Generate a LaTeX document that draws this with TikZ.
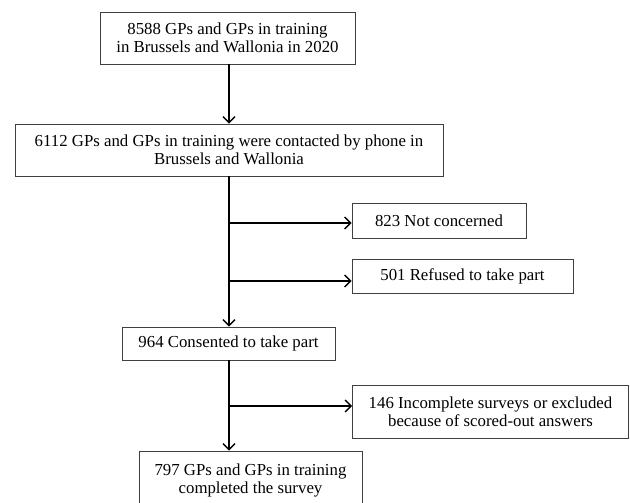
\documentclass[tikz,border=0pt]{standalone}
\usepackage{fontspec}
\setmainfont{Liberation Serif}
\usetikzlibrary{arrows.meta}
\begin{document}
\begin{tikzpicture}[x=1pt,y=-1pt,
  box/.style={draw=black!75, line width=0.9pt, align=center, inner sep=0pt,
    font=\fontsize{16.8}{18}\selectfont},
  conn/.style={line width=1.3pt, -{Straight Barb[length=6pt,width=12pt,line width=1.3pt]}},
  trunk/.style={line width=1.3pt}]
\useasboundingbox (0,0) rectangle (630,503);
\fill[white] (0,0) rectangle (630,503);
\clip (0,0) rectangle (630,503);
\coordinate (tx) at (229,0);
\node[box, minimum width=255, minimum height=52] (a) at (227.5,38)
  {8588 GPs and GPs in training\\in Brussels and Wallonia in 2020};
\node[box, minimum width=428, minimum height=52] (b) at (229,150)
  {6112 GPs and GPs in training were contacted by phone in\\Brussels and Wallonia};
\node[box, minimum width=174, minimum height=35] (c) at (439,220.5)
  {823 Not concerned};
\node[box, minimum width=221, minimum height=34] (d) at (462.5,276)
  {501 Refused to take part};
\node[box, minimum width=213, minimum height=33] (e) at (228.5,343.5)
  {964 Consented to take part};
\node[box, minimum width=276, minimum height=53] (f) at (490.5,411.5)
  {146 Incomplete surveys or excluded\\because of scored-out answers};
\node[box, minimum width=223, minimum height=58] (g) at (250.5,480)
  {797 GPs and GPs in training\\completed the survey};
\coordinate (j1) at (229,223);
\coordinate (j2) at (229,281);
\coordinate (j3) at (229,406);
\draw[conn] (a.south -| tx) -- (b.north -| tx);
\draw[conn] (b.south -| tx) -- (e.north -| tx);
\draw[conn] (j1) -- (j1 -| c.west);
\draw[conn] (j2) -- (j2 -| d.west);
\draw[conn] (e.south -| tx) -- (g.north -| tx);
\draw[conn] (j3) -- (j3 -| f.west);
\end{tikzpicture}
\end{document}
